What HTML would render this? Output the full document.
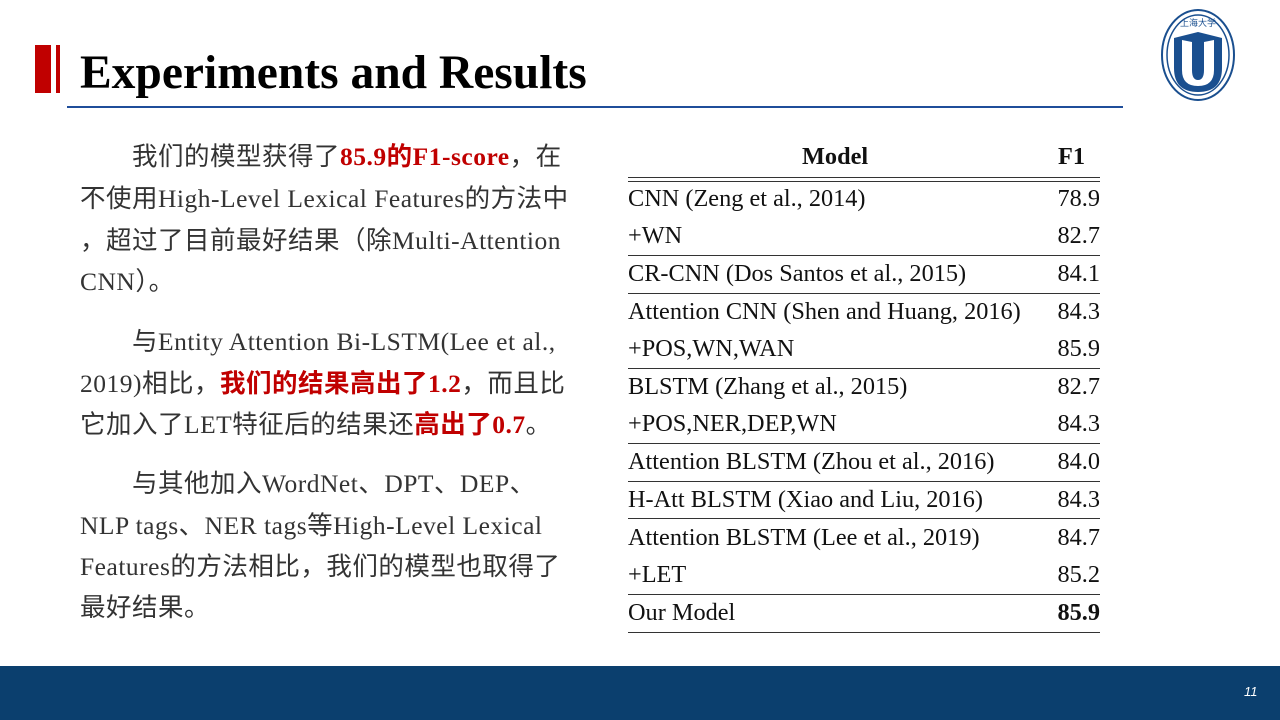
<!DOCTYPE html>
<html><head><meta charset="utf-8"><style>
body{margin:0;width:1280px;height:720px;position:relative;background:#fff;overflow:hidden;font-family:"Liberation Serif","Noto Sans CJK SC",serif;}
.a{position:absolute;}
.p{position:absolute;left:80px;font-size:25.5px;letter-spacing:0.5px;color:#333;white-space:nowrap;line-height:41.5px;font-family:"Liberation Serif","Noto Sans CJK SC",sans-serif;}
.r{color:#c00000;font-weight:bold;}
.row{position:absolute;left:628px;width:472px;font-size:24.3px;color:#111;height:37px;line-height:37px;}
.row span{position:absolute;right:0;top:0;}
.hl{position:absolute;left:628px;width:472px;height:1px;background:#333;}
</style></head><body>
<div class="a" style="left:35px;top:45px;width:16px;height:48px;background:#c00000"></div>
<div class="a" style="left:56px;top:45px;width:4px;height:48px;background:#c00000"></div>
<div class="a" style="left:80px;top:43px;font-size:47.5px;font-weight:bold;line-height:60px;color:#000">Experiments and Results</div>
<div class="a" style="left:67px;top:106px;width:1056px;height:2px;background:#1f4e9a"></div>
<svg class="a" style="left:1160px;top:8px" width="76" height="94" viewBox="0 0 76 94">
<ellipse cx="38" cy="47" rx="36" ry="45" fill="none" stroke="#1a4f8f" stroke-width="2"/>
<ellipse cx="38" cy="47" rx="31" ry="40" fill="none" stroke="#1a4f8f" stroke-width="1.5"/>
<path d="M14 30 L38 24 L62 30 L62 60 Q62 84 38 84 Q14 84 14 60Z" fill="#1a4f8f"/>
<path d="M22 32 L32 34 L32 62 Q32 72 38 72 Q44 72 44 62 L44 34 L54 32 L54 62 Q54 78 38 78 Q22 78 22 62Z" fill="#fff"/>
<text x="38" y="18" font-size="9" text-anchor="middle" fill="#1a4f8f">上海大学</text>
</svg>
<div class="p" style="top:136px">　　我们的模型获得了<span class="r">85.9的F1-score</span>，在</div>
<div class="p" style="top:178px">不使用High-Level Lexical Features的方法中</div>
<div class="p" style="top:220px">，超过了目前最好结果（除Multi-Attention</div>
<div class="p" style="top:261px">CNN）。</div>
<div class="p" style="top:321px">　　与Entity Attention Bi-LSTM(Lee et al.,</div>
<div class="p" style="top:363px">2019)相比，<span class="r">我们的结果高出了1.2</span>，而且比</div>
<div class="p" style="top:404px">它加入了LET特征后的结果还<span class="r">高出了0.7</span>。</div>
<div class="p" style="top:463px">　　与其他加入WordNet、DPT、DEP、</div>
<div class="p" style="top:505px">NLP tags、NER tags等High-Level Lexical</div>
<div class="p" style="top:546px">Features的方法相比，我们的模型也取得了</div>
<div class="p" style="top:587px">最好结果。</div>

<div class="row" style="top:138px;font-weight:bold;"><b style="position:absolute;left:174px">Model</b><b style="position:absolute;left:430px">F1</b></div>
<div class="hl" style="top:177px"></div><div class="hl" style="top:181px"></div>
<div class="row" style="top:180px">CNN (Zeng et al., 2014)<span>78.9</span></div>
<div class="row" style="top:217px">+WN<span>82.7</span></div>
<div class="hl" style="top:255px"></div>
<div class="row" style="top:255px">CR-CNN (Dos Santos et al., 2015)<span>84.1</span></div>
<div class="hl" style="top:293px"></div>
<div class="row" style="top:293px">Attention CNN (Shen and Huang, 2016)<span>84.3</span></div>
<div class="row" style="top:330px">+POS,WN,WAN<span>85.9</span></div>
<div class="hl" style="top:368px"></div>
<div class="row" style="top:368px">BLSTM (Zhang et al., 2015)<span>82.7</span></div>
<div class="row" style="top:405px">+POS,NER,DEP,WN<span>84.3</span></div>
<div class="hl" style="top:443px"></div>
<div class="row" style="top:443px">Attention BLSTM (Zhou et al., 2016)<span>84.0</span></div>
<div class="hl" style="top:481px"></div>
<div class="row" style="top:481px">H-Att BLSTM (Xiao and Liu, 2016)<span>84.3</span></div>
<div class="hl" style="top:518px"></div>
<div class="row" style="top:519px">Attention BLSTM (Lee et al., 2019)<span>84.7</span></div>
<div class="row" style="top:556px">+LET<span>85.2</span></div>
<div class="hl" style="top:594px"></div>
<div class="row" style="top:594px">Our Model<span style="font-weight:bold">85.9</span></div>
<div class="hl" style="top:632px"></div>

<div class="a" style="left:0;top:666px;width:1280px;height:54px;background:#0b3f6e"></div>
<div class="a" style="left:1244px;top:684px;font-size:13px;font-style:italic;color:#fff;font-family:'Liberation Sans',sans-serif">11</div>
</body></html>
